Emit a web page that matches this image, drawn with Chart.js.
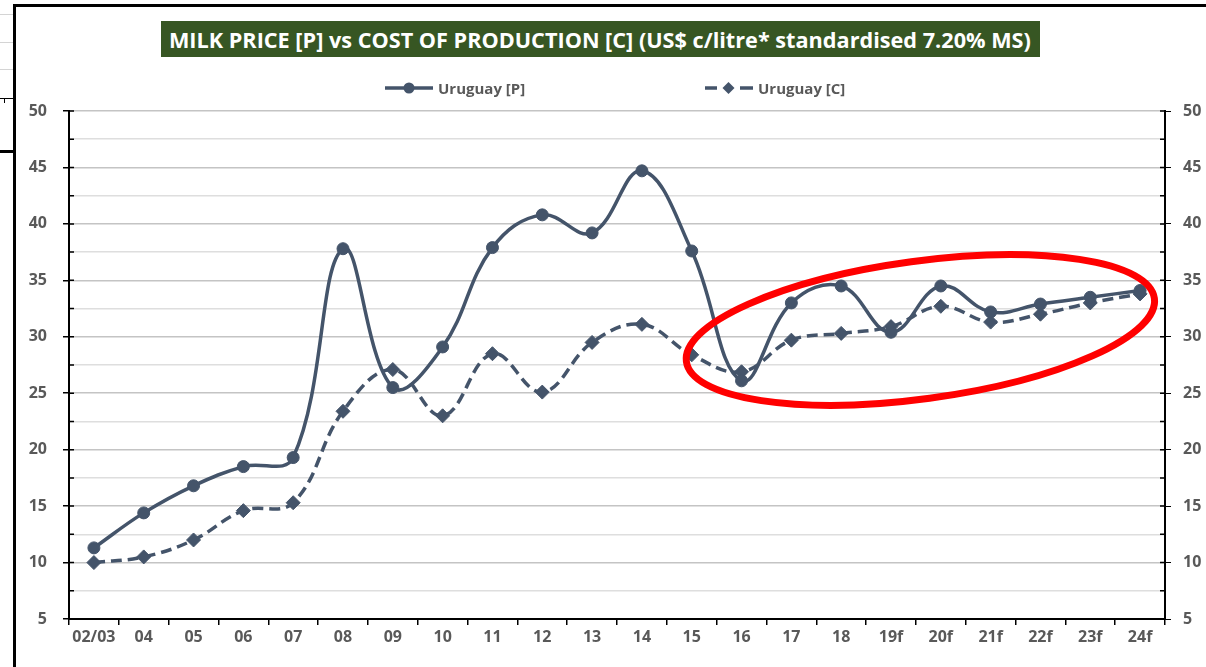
<!DOCTYPE html>
<html>
<head>
<meta charset="utf-8">
<script src="https://cdn.jsdelivr.net/npm/chart.js@4.4.1/dist/chart.umd.min.js"></script>
<style>
  html, body { margin: 0; padding: 0; background: #fff; }
  body { width: 1206px; height: 667px; position: relative; overflow: hidden; font-family: 'Open Sans', Lato, sans-serif; }
  #c { position: absolute; left: 0; top: 0; }
  .bar { position: absolute; background: #000; }
  .sheet { position: absolute; left: 0; width: 13px; height: 1px; background: #d4d4d4; }
  #title { position: absolute; left: 161px; top: 21px; width: 879px; height: 36px; background: #375623;
           color: #fff; font-weight: bold; font-size: 22px; line-height: 36px; white-space: nowrap; overflow: hidden; }
  #title span { display: inline-block; transform-origin: 0 50%; padding-left: 8px; }
  .leg { position: absolute; top: 77px; height: 22px; display: flex; align-items: center;
         color: #595959; font-weight: bold; font-size: 15px; }
  .leg svg { margin-right: 5px; }
</style>
</head>
<body>
<canvas id="c" width="1206" height="667"></canvas>

<!-- spreadsheet bits left of the chart frame -->
<div class="sheet" style="top:14px"></div>
<div class="sheet" style="top:42px"></div>
<div class="sheet" style="top:69px"></div>
<div class="bar" style="left:0;top:98px;width:13px;height:1px"></div>
<div class="bar" style="left:4px;top:98px;width:1px;height:5px"></div>
<div class="bar" style="left:0;top:150px;width:13px;height:3px"></div>
<!-- chart frame -->
<div class="bar" style="left:13px;top:4px;width:1193px;height:3px"></div>
<div class="bar" style="left:13px;top:4px;width:3px;height:663px"></div>

<div id="title"><span>MILK PRICE [P] vs COST OF PRODUCTION [C] (US$ c/litre* standardised 7.20% MS)</span></div>

<div class="leg" style="left:385px">
  <svg width="48" height="14"><line x1="0" y1="7" x2="48" y2="7" stroke="#44546A" stroke-width="3.5"/><circle cx="24" cy="7" r="5.5" fill="#44546A"/></svg>
  <span id="lp"></span>
</div>
<div class="leg" style="left:705px">
  <svg width="48" height="14"><line x1="0" y1="7" x2="12" y2="7" stroke="#44546A" stroke-width="3.5"/><line x1="35" y1="7" x2="48" y2="7" stroke="#44546A" stroke-width="3.5"/><path d="M23.5 1 L29.5 7 L23.5 13 L17.5 7 Z" fill="#44546A"/></svg>
  <span id="lc"></span>
</div>

<script>
// season labels
var seasons = ['02/03', '04', '05', '06', '07', '08', '09', '10', '11', '12', '13', '14',
               '15', '16', '17', '18', '19f', '20f', '21f', '22f', '23f', '24f'];
// Uruguay milk price [P]
var pricePValues = [11.3, 14.4, 16.8, 18.5, 19.3, 37.8, 25.5, 29.1, 37.9, 40.8, 39.2, 44.7,
                    37.6, 26.1, 33.0, 34.5, 30.4, 34.5, 32.2, 32.9, 33.5, 34.1];
// Uruguay cost of production [C]
var costCValues = [10.0, 10.5, 12.0, 14.6, 15.3, 23.4, 27.1, 23.0, 28.5, 25.1, 29.5, 31.1,
                   28.4, 26.9, 29.7, 30.3, 30.9, 32.7, 31.3, 32.0, 33.0, 33.8];
var seriesNames = ['Uruguay [P]', 'Uruguay [C]'];
var yMin = 5, yMax = 50, yStep = 2.5;

document.getElementById('lp').textContent = seriesNames[0];
document.getElementById('lc').textContent = seriesNames[1];

// squeeze title text into the green box like the narrow Calibri original
var span = document.querySelector('#title span');
var w = span.getBoundingClientRect().width - 8;
span.style.transform = 'scaleX(' + (862 / w) + ')';

var lineColor = '#44546A';
var labelColor = '#595959';
var tickFont = { family: 'Open Sans', size: 16, weight: 'bold' };

function isMajor(v) { return v % 5 === 0; }

// inward tick marks on both value axes
var innerTicks = {
    id: 'innerTicks',
    afterDraw: function (chart) {
        var ctx = chart.ctx, y = chart.scales.y, a = chart.chartArea;
        ctx.save();
        ctx.strokeStyle = '#000';
        ctx.lineWidth = 1.5;
        for (var i = 0; i < y.ticks.length; i++) {
            var py = y.getPixelForTick(i);
            ctx.beginPath();
            ctx.moveTo(a.left, py); ctx.lineTo(a.left + 5, py);
            ctx.moveTo(a.right, py); ctx.lineTo(a.right - 5, py);
            ctx.stroke();
        }
        ctx.restore();
    }
};

// red hand-drawn ring around the recent seasons
var redRing = {
    id: 'redRing',
    afterDatasetsDraw: function (chart) {
        var ctx = chart.ctx, x = chart.scales.x, y = chart.scales.y;
        var step = x.getPixelForValue(1) - x.getPixelForValue(0);
        var cx = x.getPixelForValue(16.59);
        var cy = y.getPixelForValue(30.6);
        var rx = 4.74 * step;
        var ry = y.getPixelForValue(30.6 - 6.1) - cy;
        ctx.save();
        ctx.strokeStyle = '#FF0000';
        ctx.lineWidth = 7;
        ctx.beginPath();
        ctx.ellipse(cx, cy, rx, ry, -7.7 * Math.PI / 180, 0, Math.PI * 2);
        ctx.stroke();
        ctx.restore();
    }
};

var yTicksCfg = {
    stepSize: yStep,
    autoSkip: false,
    color: labelColor,
    font: tickFont,
    callback: function (v) { return isMajor(v) ? v : ''; }
};

new Chart(document.getElementById('c').getContext('2d'), {
    type: 'line',
    data: {
        labels: seasons,
        datasets: [{
            label: seriesNames[0],
            data: pricePValues,
            borderColor: lineColor,
            backgroundColor: lineColor,
            borderWidth: 3.5,
            tension: 0.4,
            pointStyle: 'circle',
            pointRadius: 6,
            pointBorderWidth: 1,
            pointBackgroundColor: lineColor,
            pointBorderColor: lineColor
        }, {
            label: seriesNames[1],
            data: costCValues,
            borderColor: lineColor,
            backgroundColor: lineColor,
            borderWidth: 3.5,
            borderDash: [11, 6],
            tension: 0.4,
            pointStyle: 'rectRot',
            pointRadius: 7,
            pointBorderWidth: 1,
            pointBackgroundColor: lineColor,
            pointBorderColor: lineColor
        }]
    },
    options: {
        responsive: false,
        animation: false,
        layout: { padding: { top: 111, left: 0, right: 0, bottom: 0 } },
        plugins: {
            legend: { display: false },
            title: { display: false },
            tooltip: { enabled: false }
        },
        scales: {
            x: {
                type: 'category',
                offset: true,
                grid: { offset: true, drawOnChartArea: false, drawTicks: true, tickLength: 6, tickColor: '#000', lineWidth: 1.5 },
                border: { display: true, color: '#000', width: 2 },
                ticks: { color: labelColor, font: tickFont, maxRotation: 0, autoSkip: false, padding: 3 },
                afterFit: function (s) { s.height = 48; }
            },
            y: {
                position: 'left',
                min: yMin, max: yMax,
                grid: {
                    drawTicks: true,
                    tickLength: 6,
                    lineWidth: 1.5,
                    color: function (c) { return isMajor(c.tick.value) ? '#C4C4C4' : '#DEDEDE'; },
                    tickColor: function (c) { return isMajor(c.tick.value) ? '#000' : 'rgba(0,0,0,0)'; }
                },
                border: { display: true, color: '#000', width: 2 },
                ticks: Object.assign({ padding: 16 }, yTicksCfg),
                afterFit: function (s) { s.width = 69; }
            },
            y2: {
                position: 'right',
                min: yMin, max: yMax,
                grid: {
                    drawOnChartArea: false,
                    drawTicks: true,
                    tickLength: 6,
                    tickColor: function (c) { return isMajor(c.tick.value) ? '#000' : 'rgba(0,0,0,0)'; }
                },
                border: { display: true, color: '#000', width: 2 },
                ticks: Object.assign({ padding: 12 }, yTicksCfg),
                afterFit: function (s) { s.width = 41; }
            }
        }
    },
    plugins: [innerTicks, redRing]
});
</script>
</body>
</html>
